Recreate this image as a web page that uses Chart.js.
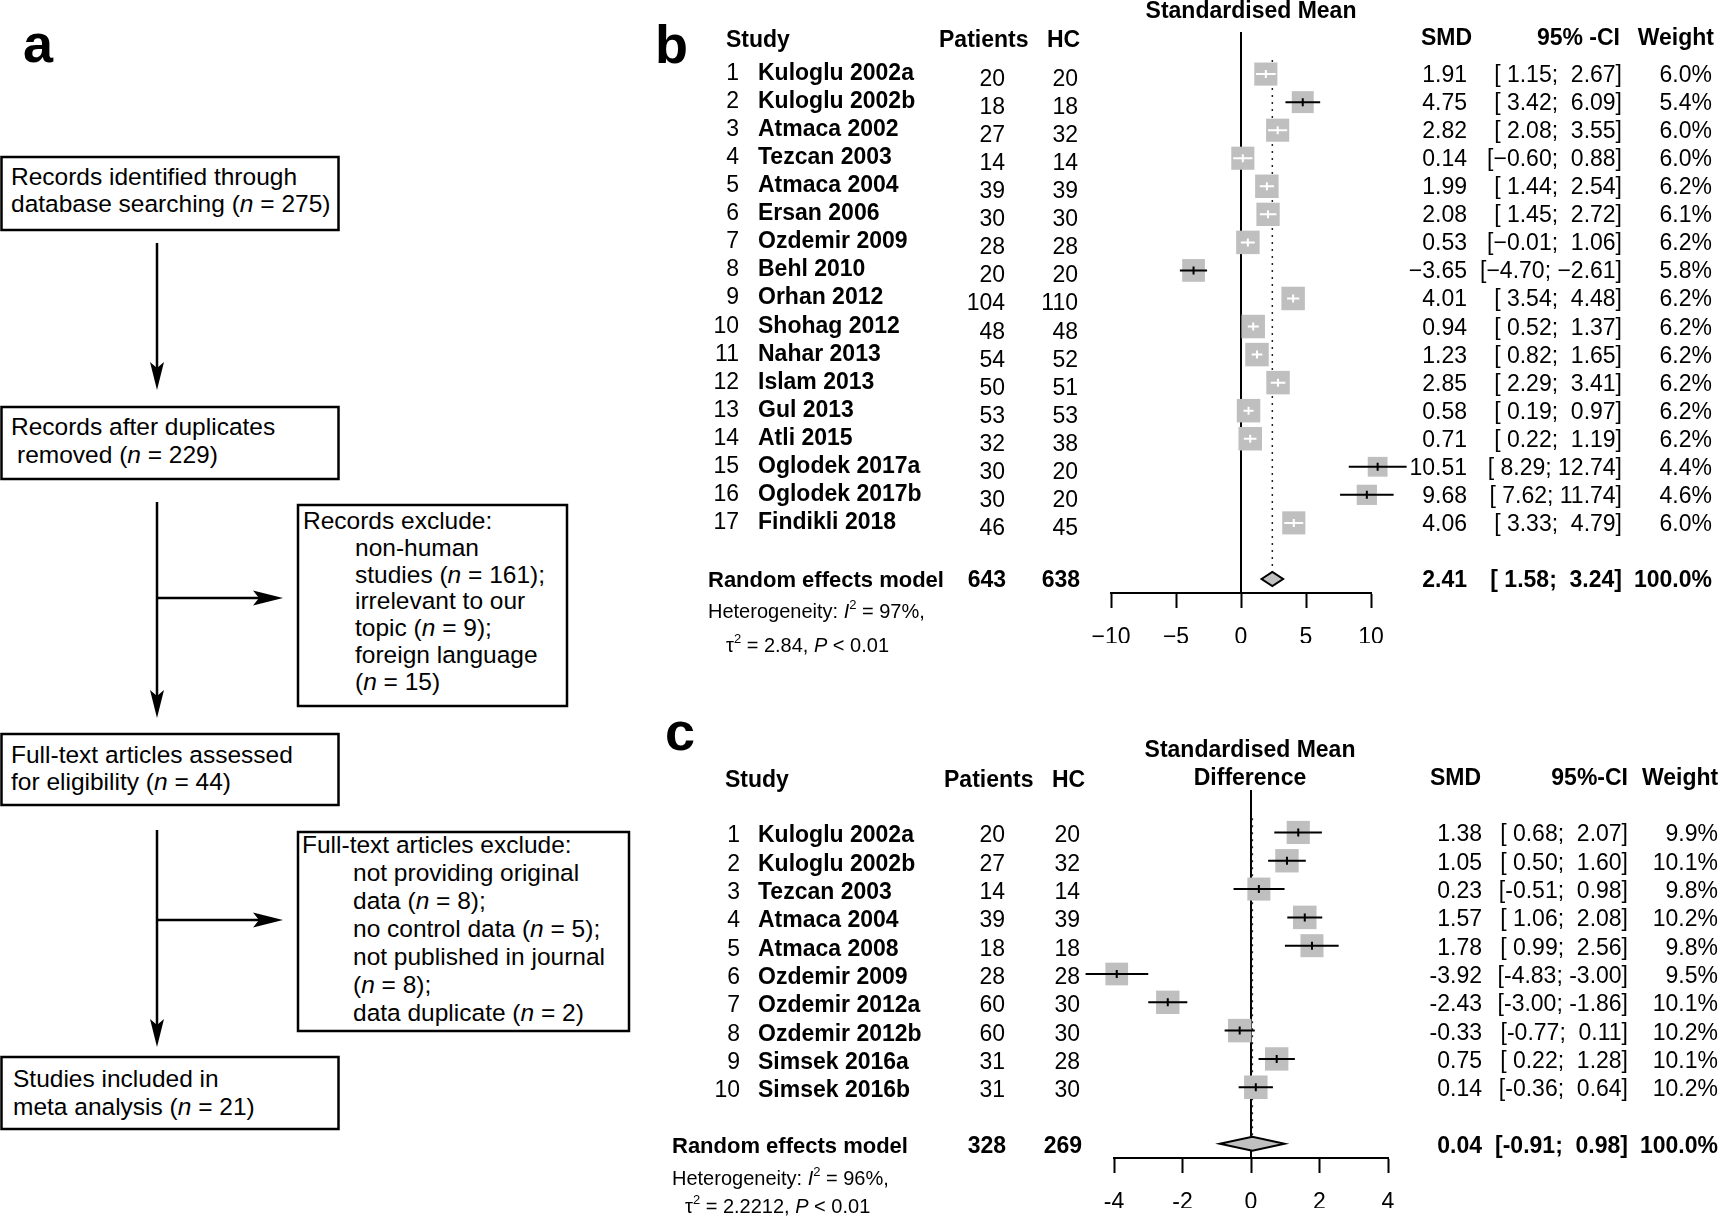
<!DOCTYPE html>
<html>
<head>
<meta charset="utf-8">
<title>Flow diagram and forest plots</title>
<script src="https://cdn.jsdelivr.net/npm/chart.js"></script>
<style>
  html, body { margin: 0; padding: 0; background: #fff; }
  body { width: 1721px; height: 1218px; position: relative; overflow: hidden; }
  canvas, svg { position: absolute; }
</style>
</head>
<body>

<!-- panel a : flow diagram -->
<svg width="640" height="1218" style="left:0;top:0" font-family="'Liberation Sans', Arial, sans-serif" font-size="24.5">
  <text x="23" y="62" font-size="54" font-weight="bold">a</text>

  <g fill="none" stroke="#000" stroke-width="2.5">
    <rect x="1.5" y="157" width="337" height="73"/>
    <rect x="1.5" y="407" width="337" height="72"/>
    <rect x="298" y="505" width="269" height="201"/>
    <rect x="1.5" y="734" width="337" height="71"/>
    <rect x="298" y="832" width="331" height="199"/>
    <rect x="1.5" y="1057" width="337" height="72"/>
  </g>

  <g stroke="#000" stroke-width="2.5">
    <line x1="157" y1="243" x2="157" y2="370"/>
    <line x1="157" y1="502" x2="157" y2="698"/>
    <line x1="157" y1="598" x2="261" y2="598"/>
    <line x1="157" y1="830" x2="157" y2="1027"/>
    <line x1="157" y1="920" x2="261" y2="920"/>
  </g>
  <g fill="#000">
    <polygon points="157,390 150,362 157,368 164,362"/>
    <polygon points="157,718 150,690 157,696 164,690"/>
    <polygon points="157,1047 150,1019 157,1025 164,1019"/>
    <polygon points="283,598 253,590.5 259,598 253,605.5"/>
    <polygon points="283,920 253,912.5 259,920 253,927.5"/>
  </g>

  <text x="11" y="185">Records identified through</text>
  <text x="11" y="212">database searching (<tspan font-style="italic">n</tspan> = 275)</text>

  <text x="11" y="435">Records after duplicates</text>
  <text x="17" y="463">removed (<tspan font-style="italic">n</tspan> = 229)</text>

  <text x="303" y="529">Records exclude:</text>
  <text x="355" y="556">non-human</text>
  <text x="355" y="583">studies (<tspan font-style="italic">n</tspan> = 161);</text>
  <text x="355" y="609">irrelevant to our</text>
  <text x="355" y="636">topic (<tspan font-style="italic">n</tspan> = 9);</text>
  <text x="355" y="663">foreign language</text>
  <text x="355" y="690">(<tspan font-style="italic">n</tspan> = 15)</text>

  <text x="11" y="763">Full-text articles assessed</text>
  <text x="11" y="790">for eligibility (<tspan font-style="italic">n</tspan> = 44)</text>

  <text x="302" y="853">Full-text articles exclude:</text>
  <text x="353" y="881">not providing original</text>
  <text x="353" y="909">data (<tspan font-style="italic">n</tspan> = 8);</text>
  <text x="353" y="937">no control data (<tspan font-style="italic">n</tspan> = 5);</text>
  <text x="353" y="965">not published in journal</text>
  <text x="353" y="993">(<tspan font-style="italic">n</tspan> = 8);</text>
  <text x="353" y="1021">data duplicate (<tspan font-style="italic">n</tspan> = 2)</text>

  <text x="13" y="1087">Studies included in</text>
  <text x="13" y="1115">meta analysis (<tspan font-style="italic">n</tspan> = 21)</text>
</svg>

<canvas id="forestB" width="1081" height="680" style="left:640px;top:0px"></canvas>
<canvas id="forestC" width="1081" height="528" style="left:640px;top:690px"></canvas>

<script>
// ---- panel b data ----
const studiesB = ['Kuloglu 2002a', 'Kuloglu 2002b', 'Atmaca 2002', 'Tezcan 2003', 'Atmaca 2004',
  'Ersan 2006', 'Ozdemir 2009', 'Behl 2010', 'Orhan 2012', 'Shohag 2012', 'Nahar 2013',
  'Islam 2013', 'Gul 2013', 'Atli 2015', 'Oglodek 2017a', 'Oglodek 2017b', 'Findikli 2018'];
const patientsB = [20, 18, 27, 14, 39, 30, 28, 20, 104, 48, 54, 50, 53, 32, 30, 30, 46];
const controlsB = [20, 18, 32, 14, 39, 30, 28, 20, 110, 48, 52, 51, 53, 38, 20, 20, 45];
const smdB   = [1.91, 4.75, 2.82, 0.14, 1.99, 2.08, 0.53, -3.65, 4.01, 0.94, 1.23, 2.85, 0.58, 0.71, 10.51, 9.68, 4.06];
const lowerB = [1.15, 3.42, 2.08, -0.60, 1.44, 1.45, -0.01, -4.70, 3.54, 0.52, 0.82, 2.29, 0.19, 0.22, 8.29, 7.62, 3.33];
const upperB = [2.67, 6.09, 3.55, 0.88, 2.54, 2.72, 1.06, -2.61, 4.48, 1.37, 1.65, 3.41, 0.97, 1.19, 12.74, 11.74, 4.79];
const weightB = [6.0, 5.4, 6.0, 6.0, 6.2, 6.1, 6.2, 5.8, 6.2, 6.2, 6.2, 6.2, 6.2, 6.2, 4.4, 4.6, 6.0];
const pooledB = [2.41, 1.58, 3.24];        // SMD, lower, upper
const totalsB = [643, 638];                // patients, HC
const heterogeneityB = ['97%', '2.84'];    // I^2, tau^2
const ticksB = [-10, -5, 0, 5, 10];
const tickLabelsB = ['\u221210', '\u22125', '0', '5', '10'];

// ---- panel c data ----
const studiesC = ['Kuloglu 2002a', 'Kuloglu 2002b', 'Tezcan 2003', 'Atmaca 2004', 'Atmaca 2008',
  'Ozdemir 2009', 'Ozdemir 2012a', 'Ozdemir 2012b', 'Simsek 2016a', 'Simsek 2016b'];
const patientsC = [20, 27, 14, 39, 18, 28, 60, 60, 31, 31];
const controlsC = [20, 32, 14, 39, 18, 28, 30, 30, 28, 30];
const smdC   = [1.38, 1.05, 0.23, 1.57, 1.78, -3.92, -2.43, -0.33, 0.75, 0.14];
const lowerC = [0.68, 0.50, -0.51, 1.06, 0.99, -4.83, -3.00, -0.77, 0.22, -0.36];
const upperC = [2.07, 1.60, 0.98, 2.08, 2.56, -3.00, -1.86, 0.11, 1.28, 0.64];
const weightC = [9.9, 10.1, 9.8, 10.2, 9.8, 9.5, 10.1, 10.2, 10.1, 10.2];
const pooledC = [0.04, -0.91, 0.98];
const totalsC = [328, 269];
const heterogeneityC = ['96%', '2.2212'];
const ticksC = [-4, -2, 0, 2, 4];
const tickLabelsC = ['-4', '-2', '0', '2', '4'];

const FF = "'Liberation Sans', Arial, Helvetica, sans-serif";
Chart.defaults.font.family = FF;
Chart.defaults.color = '#000';

// layout of each panel (page coordinates, canvas sits at x = 640)
const panelB = {
  letter: 'b', top: 0, minus: '\u2212',
  studies: studiesB, patients: patientsB, controls: controlsB,
  smd: smdB, lower: lowerB, upper: upperB, weight: weightB,
  pooled: pooledB, totals: totalsB, het: heterogeneityB,
  ticks: ticksB, tickLabels: tickLabelsB, summaryRow: 19,
  padding: { left: 471, right: 350, top: 32, bottom: 37 },
  letterPos: [655, 63],
  headers: [['Study', 726, 47, 'left'], ['Patients', 939, 47, 'left'], ['HC', 1047, 47, 'left'],
            ['Standardised Mean', 1251, 18, 'center'],
            ['SMD', 1421, 45, 'left'], ['95% -CI', 1620, 45, 'right'], ['Weight', 1714, 45, 'right']],
  col: { idx: 739, name: 758, pat: 1005, hc: 1078, smd: 1467, ci: 1622, w: 1712 },
  dy: { name: 6, num: 12, right: 8, sum: 8 },
  sumX: 708, het1: [708, 618], het2: [726, 652]
};
const panelC = {
  letter: 'c', top: 690, minus: '-',
  studies: studiesC, patients: patientsC, controls: controlsC,
  smd: smdC, lower: lowerC, upper: upperC, weight: weightC,
  pooled: pooledC, totals: totalsC, het: heterogeneityC,
  ticks: ticksC, tickLabels: tickLabelsC, summaryRow: 12,
  padding: { left: 474, right: 333, top: 100, bottom: 10 },
  letterPos: [665, 750],
  headers: [['Study', 725, 787, 'left'], ['Patients', 944, 787, 'left'], ['HC', 1052, 787, 'left'],
            ['Standardised Mean', 1250, 757, 'center'], ['Difference', 1250, 785, 'center'],
            ['SMD', 1430, 785, 'left'], ['95%-CI', 1628, 785, 'right'], ['Weight', 1642, 785, 'left']],
  col: { idx: 740, name: 758, pat: 1005, hc: 1080, smd: 1482, ci: 1628, w: 1718 },
  dy: { name: 10, num: 10, right: 9, sum: 9 },
  sumX: 672, het1: [672, 1185], het2: [685, 1213]
};

function fmt(v, minus) {
  return v < 0 ? minus + Math.abs(v).toFixed(2) : v.toFixed(2);
}
function ciText(lo, hi, minus) {
  return '[' + fmt(lo, minus).padStart(5, ' ') + '; ' + fmt(hi, minus).padStart(5, ' ') + ']';
}

// text made of several runs (italic, superscript...)
function drawRuns(ctx, runs, x, y) {
  ctx.textAlign = 'left';
  runs.forEach(r => {
    ctx.font = r[1];
    ctx.fillText(r[0], x, y + (r[2] || 0));
    x += ctx.measureText(r[0]).width;
  });
}

function drawTable(chart, p) {
  const ctx = chart.ctx, ys = chart.scales.y;
  const OX = 640, OY = p.top;
  const put = (s, X, Y, align, font) => {
    ctx.font = font; ctx.textAlign = align; ctx.fillText(s, X - OX, Y - OY);
  };
  const rowY = r => ys.getPixelForValue(r) + OY;
  const bold = 'bold 23px ' + FF, reg = '23px ' + FF;

  ctx.save();
  ctx.fillStyle = '#000';
  ctx.textBaseline = 'alphabetic';
  put(p.letter, p.letterPos[0], p.letterPos[1], 'left', 'bold 54px ' + FF);
  p.headers.forEach(h => put(h[0], h[1], h[2], h[3], bold));

  p.studies.forEach((name, i) => {
    const yc = rowY(i + 1);
    put(String(i + 1), p.col.idx, yc + p.dy.name, 'right', reg);
    put(name, p.col.name, yc + p.dy.name, 'left', bold);
    put(String(p.patients[i]), p.col.pat, yc + p.dy.num, 'right', reg);
    put(String(p.controls[i]), p.col.hc, yc + p.dy.num, 'right', reg);
    put(fmt(p.smd[i], p.minus), p.col.smd, yc + p.dy.right, 'right', reg);
    put(ciText(p.lower[i], p.upper[i], p.minus), p.col.ci, yc + p.dy.right, 'right', reg);
    put(p.weight[i].toFixed(1) + '%', p.col.w, yc + p.dy.right, 'right', reg);
  });

  const ys2 = rowY(p.summaryRow) + p.dy.sum;
  put('Random effects model', p.sumX, ys2, 'left', 'bold 22px ' + FF);
  put(String(p.totals[0]), p.col.pat + 1, ys2, 'right', bold);
  put(String(p.totals[1]), p.col.hc + 2, ys2, 'right', bold);
  put(fmt(p.pooled[0], p.minus), p.col.smd, ys2, 'right', bold);
  put(ciText(p.pooled[1], p.pooled[2], p.minus), p.col.ci, ys2, 'right', bold);
  put('100.0%', p.col.w, ys2, 'right', bold);

  const f = '20px ' + FF, fi = 'italic 20px ' + FF, fs = '13px ' + FF;
  drawRuns(ctx, [['Heterogeneity: ', f], ['I', fi], ['2', fs, -9], [' = ' + p.het[0] + ',', f]],
    p.het1[0] - OX, p.het1[1] - OY);
  drawRuns(ctx, [['\u03c4', f], ['2', fs, -9], [' = ' + p.het[1] + ', ', f], ['P', fi], [' < 0.01', f]],
    p.het2[0] - OX, p.het2[1] - OY);
  ctx.restore();
}

function forestPlugin(p, side) {
  return {
    id: 'forest' + p.letter,
    beforeDatasetsDraw(chart) {
      const { ctx, chartArea: a, scales: { x, y } } = chart;
      ctx.save();
      // line of no effect
      const x0 = x.getPixelForValue(0);
      ctx.strokeStyle = '#000';
      ctx.lineWidth = 2;
      ctx.beginPath(); ctx.moveTo(x0, a.top); ctx.lineTo(x0, a.bottom); ctx.stroke();
      // pooled estimate (dotted)
      const xp = x.getPixelForValue(p.pooled[0]);
      ctx.setLineDash([2, 5]);
      ctx.lineWidth = 1.5;
      ctx.strokeStyle = '#222';
      ctx.beginPath();
      ctx.moveTo(xp, y.getPixelForValue(0.5));
      ctx.lineTo(xp, y.getPixelForValue(p.summaryRow) - 7);
      ctx.stroke();
      ctx.restore();
    },
    afterDatasetsDraw(chart) {
      const { ctx, scales: { x, y } } = chart;
      ctx.save();
      ctx.lineWidth = 2;
      p.smd.forEach((v, i) => {
        const yc = y.getPixelForValue(i + 1);
        const x1 = x.getPixelForValue(p.lower[i]);
        const x2 = x.getPixelForValue(p.upper[i]);
        const xm = x.getPixelForValue(v);
        // CI inside the square is drawn white, as meta does
        ctx.strokeStyle = (x2 - x1) < side(p.weight[i]) ? '#fff' : '#000';
        ctx.beginPath();
        ctx.moveTo(x1, yc); ctx.lineTo(x2, yc);
        ctx.moveTo(xm, yc - 4); ctx.lineTo(xm, yc + 4);
        ctx.lineWidth = 2;
        ctx.stroke();
      });
      // pooled diamond
      const ys = y.getPixelForValue(p.summaryRow);
      ctx.beginPath();
      ctx.moveTo(x.getPixelForValue(p.pooled[1]), ys);
      ctx.lineTo(x.getPixelForValue(p.pooled[0]), ys - 7);
      ctx.lineTo(x.getPixelForValue(p.pooled[2]), ys);
      ctx.lineTo(x.getPixelForValue(p.pooled[0]), ys + 7);
      ctx.closePath();
      ctx.fillStyle = '#c0c0c0';
      ctx.fill();
      ctx.strokeStyle = '#000';
      ctx.lineWidth = 2;
      ctx.stroke();
      ctx.restore();
    },
    afterDraw(chart) {
      drawTable(chart, p);
    }
  };
}

function makeForest(canvasId, p) {
  const wmax = Math.max(...p.weight);
  const side = w => 23.5 * Math.sqrt(w / wmax);
  const radius = ctx => side(p.weight[ctx.dataIndex]) / (2 * Math.SQRT1_2);

  return new Chart(document.getElementById(canvasId), {
    type: 'scatter',
    data: {
      datasets: [{
        label: 'SMD',
        data: p.smd.map((v, i) => ({ x: v, y: i + 1 })),
        pointStyle: 'rect',
        pointRadius: radius,
        pointHoverRadius: radius,
        backgroundColor: '#bfbfbf',
        borderWidth: 0,
        clip: false
      }]
    },
    options: {
      responsive: false,
      animation: false,
      events: [],
      layout: { padding: p.padding },
      plugins: { legend: { display: false }, tooltip: { enabled: false } },
      scales: {
        x: {
          type: 'linear',
          min: p.ticks[0],
          max: p.ticks[p.ticks.length - 1],
          afterBuildTicks: s => { s.ticks = p.ticks.map(v => ({ value: v })); },
          afterFit: s => { s.height = 50; },
          ticks: {
            callback: (v, i) => p.tickLabels[i],
            font: { size: 23 },
            color: '#000',
            padding: 16,
            maxRotation: 0,
            autoSkip: false
          },
          grid: {
            display: true,
            drawOnChartArea: false,
            drawTicks: true,
            tickLength: 15,
            tickWidth: 2,
            tickColor: '#000',
            color: '#000'
          },
          border: { display: true, color: '#000', width: 2 }
        },
        y: {
          type: 'linear',
          display: false,
          reverse: true,
          min: -0.5,
          max: p.summaryRow + 0.5
        }
      }
    },
    plugins: [forestPlugin(p, side)]
  });
}

makeForest('forestB', panelB);
makeForest('forestC', panelC);
</script>
</body>
</html>
